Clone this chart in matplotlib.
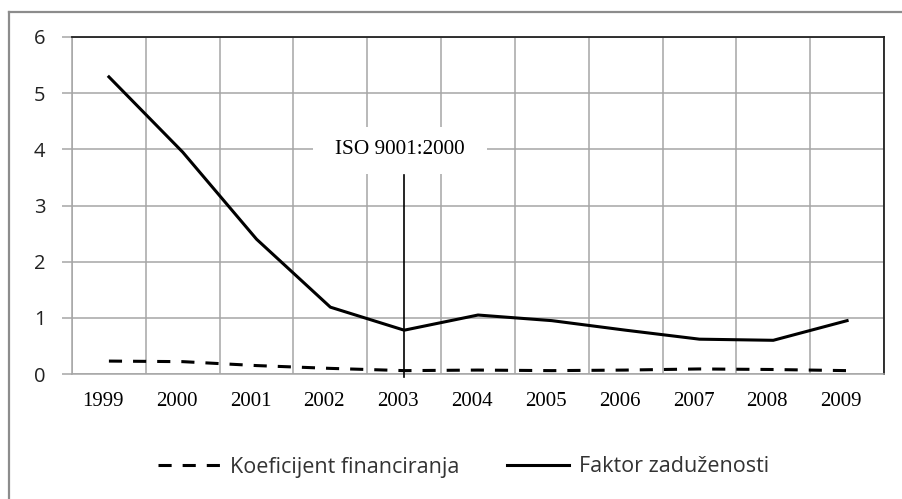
import matplotlib
matplotlib.use("Agg")
import matplotlib.pyplot as plt
import matplotlib.transforms as mtransforms
from matplotlib.lines import Line2D
from matplotlib.patches import Rectangle
import numpy as np

years = ["1999", "2000", "2001", "2002", "2003", "2004",
         "2005", "2006", "2007", "2008", "2009"]
koeficijent_financiranja = [0.23, 0.22, 0.15, 0.10, 0.06, 0.07,
                            0.06, 0.07, 0.09, 0.08, 0.06]
faktor_zaduzenosti = [5.29, 3.95, 2.40, 1.19, 0.78, 1.05,
                      0.95, 0.78, 0.62, 0.60, 0.95]
iso_year = "2003"
iso_label = "ISO 9001:2000"

W, H = 903, 499
fig = plt.figure(figsize=(W / 100, H / 100), dpi=100)
ax = fig.add_axes([72 / W, 1 - 374 / H, (884 - 72) / W, (374 - 37) / H])

grid_c = "#a6a6a6"
x = np.arange(len(years))

ax.plot(x, koeficijent_financiranja, color="black", lw=2.2,
        dashes=(4.3, 3.6), solid_capstyle="butt", zorder=4,
        label="Koeficijent financiranja")
ax.plot(x, faktor_zaduzenosti, color="black", lw=2.2, zorder=4,
        label="Faktor zaduženosti")

ax.set_xlim(-0.5, len(years) - 0.5)
ax.set_ylim(0, 6)

# category gridlines sit between the years
ax.set_xticks(x)
ax.set_xticklabels(years, family="Liberation Serif", fontsize=15)
ax.set_xticks(np.arange(-0.5, len(years)), minor=True)
ax.tick_params(axis="x", which="both", length=0, pad=13)
ax.grid(True, axis="x", which="minor", color=grid_c, lw=1.1, zorder=1)
shift = mtransforms.ScaledTranslation(-6 / 100, 0, fig.dpi_scale_trans)
for lbl in ax.get_xticklabels():
    lbl.set_transform(lbl.get_transform() + shift)

ax.set_yticks(range(0, 7))
ax.tick_params(axis="y", length=7, color=grid_c, width=1.1, pad=12,
               labelsize=14.5, labelcolor="#222222")
for lbl in ax.get_yticklabels():
    lbl.set_family("Open Sans")
ax.grid(True, axis="y", color=grid_c, lw=1.1, zorder=1)

for side in ("left", "bottom"):
    ax.spines[side].set_color(grid_c)
    ax.spines[side].set_linewidth(1.1)
for side in ("top", "right"):
    ax.spines[side].set_color("#222222")
    ax.spines[side].set_linewidth(1.3)

# ISO certification marker
ix = years.index(iso_year)
ax.plot([ix, ix], [-0.05, 3.54], color="black", lw=1.2, zorder=5,
        clip_on=False)
ax.add_patch(Rectangle((2.765, 3.56), 2.355, 0.84, facecolor="white",
                       edgecolor="none", zorder=3))
ax.text(3.94, 3.99, iso_label, family="Liberation Serif", fontsize=15.3,
        ha="center", va="center", zorder=6)

leg = fig.legend(loc="center", bbox_to_anchor=(463.5 / W, 1 - 467 / H),
                 ncol=2, frameon=False, handlelength=2.9,
                 handletextpad=0.47, columnspacing=2.2,
                 prop={"family": "Open Sans", "size": 15.5})
for t in leg.get_texts():
    t.set_color("#333333")

# outer frame (top and left edges)
frame_c = "#8c8c8c"
fig.add_artist(Line2D([9.5 / W, 9.5 / W], [0, 1 - 12 / H], color=frame_c,
                      lw=1.6, transform=fig.transFigure))
fig.add_artist(Line2D([9.5 / W, 1], [1 - 12 / H, 1 - 12 / H], color=frame_c,
                      lw=1.6, transform=fig.transFigure))

fig.savefig("out.png", dpi=100)
